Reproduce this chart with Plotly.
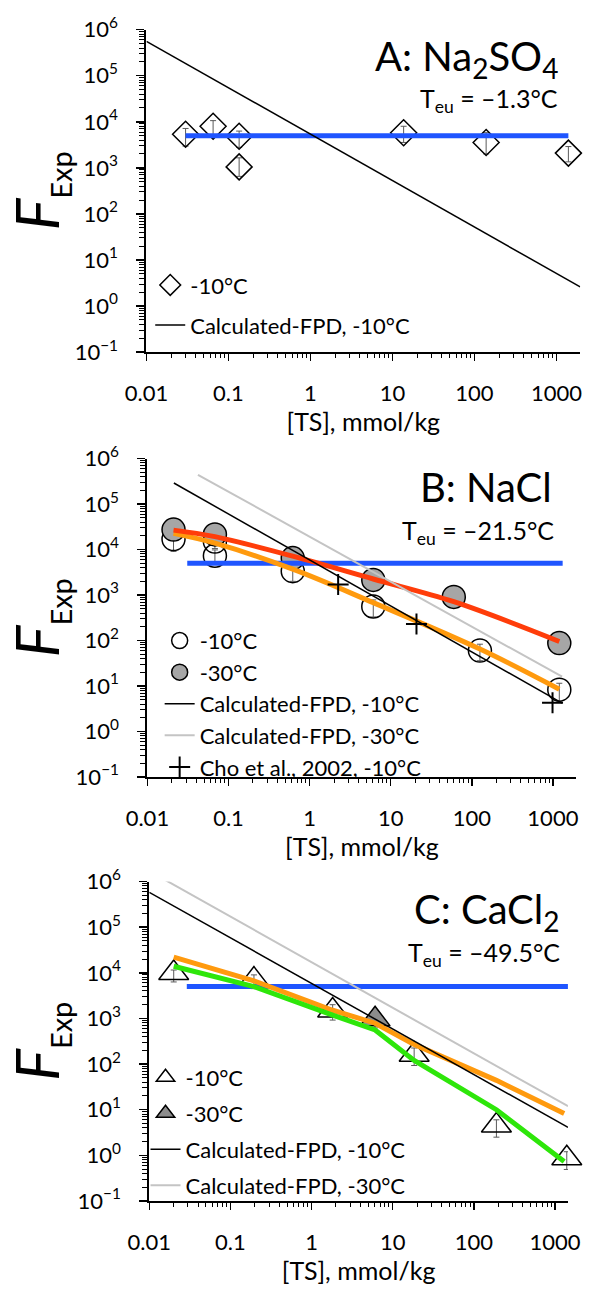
import plotly.graph_objects as go

W, H = 595, 1297
FONT = "Lato"

# ---------------- Panel A: Na2SO4 ----------------
a_x = [0.030, 0.065, 0.135, 0.135, 13.7, 139, 1400]
a_y = [5350, 8030, 4850, 1050, 5800, 3560, 2090]
a_hi = [7170, 10600, 6290, 1650, 8000, 5800, 2900]
a_lo = [2970, 4620, 2790, 653, 3560, 2010, 1350]
a_calc_x = [0.01, 1950]
a_calc_y = [5.6e5, 2.6]
a_blue_x = [0.03, 1400]
a_blue_y = [5000, 5000]

# ---------------- Panel B: NaCl ----------------
b10_x = [0.021, 0.068, 0.068, 0.62, 6.1, 126, 1200]
b10_y = [17000, 15000, 7300, 3350, 560, 60, 8.3]
b10_hi = [22000, 20500, 9800, 4500, 780, 83, 11.5]
b10_lo = [9100, 10500, 5000, 2000, 330, 36, 4.6]
b30_x = [0.021, 0.068, 0.62, 6.1, 60, 1200]
b30_y = [27500, 21500, 6500, 2150, 910, 88]
b30_hi = [36000, 29000, 8800, 2970, 1300, 126]
b30_lo = [17000, 13000, 3900, 1270, 535, 51]
cho_x = [2.25, 20.8, 990]
cho_y = [1700, 232, 4.3]
b_calc10_x = [0.0212, 1300]
b_calc10_y = [2.9e5, 4.2]
b_calc30_x = [0.042, 1300]
b_calc30_y = [4.4e5, 16]
b_fit30_x = [0.021, 0.068, 0.62, 6.1, 60, 1200]
b_fit30_y = [26700, 19200, 7150, 2250, 713, 95]
b_fit10_x = [0.021, 0.068, 0.62, 6.1, 126, 1200]
b_fit10_y = [22600, 13800, 3700, 680, 65, 8.5]
b_blue_x = [0.031, 1320]
b_blue_y = [5000, 5000]

# ---------------- Panel C: CaCl2 ----------------
c10_x = [0.02, 0.195, 1.82, 18.4, 190, 1400]
c10_y = [9900, 7100, 1490, 160, 4.5, 0.86]
c10_hi = [11500, 9000, 2000, 225, 6.0, 1.2]
c10_lo = [6300, 4500, 920, 93, 2.5, 0.49]
c30_x = [6.07]
c30_y = [955]
c30_hi = [1250]
c30_lo = [620]
c_calc10_x = [0.01, 1450]
c_calc10_y = [5.8e5, 4.1]
c_calc30_x = [0.0156, 1450]
c_calc30_y = [1.09e6, 11.9]
c_fitA_x = [0.02, 0.195, 1.82, 6.07, 18.4, 190, 1300]
c_fitA_y = [22100, 6650, 1510, 785, 270, 44, 8.3]
c_fitB_x = [0.02, 0.195, 1.82, 6.07, 18.4, 190, 1300]
c_fitB_y = [13900, 4960, 1185, 560, 120, 10, 0.73]
c_blue_x = [0.029, 1450]
c_blue_y = [5000, 5000]

# tick labels
x_tickvals = [0.01, 0.1, 1, 10, 100, 1000]
x_ticktext = ["0.01", "0.1", "1", "10", "100", "1000"]
y_tickvals = [0.1, 1, 10, 100, 1000, 1e4, 1e5, 1e6]
y_ticktext = ["10<sup>\u22121</sup>", "10<sup>0</sup>", "10<sup>1</sup>", "10<sup>2</sup>",
              "10<sup>3</sup>", "10<sup>4</sup>", "10<sup>5</sup>", "10<sup>6</sup>"]

BLUE = "#1f55ff"
ORANGE = "#ff9a0e"
RED = "#ff3d0a"
GREEN = "#2ee60a"
LGRAY = "#c4c4c4"
MGRAY = "#a6a6a6"
ERRC = "#5a5a5a"


def err(y, hi, lo):
    return dict(type="data", symmetric=False,
                array=[h - v for v, h in zip(y, hi)],
                arrayminus=[v - l for v, l in zip(y, lo)],
                color=ERRC, thickness=1, width=3)


def fx(px):
    return px / W


def fy(py):
    return 1 - py / H


fig = go.Figure()

# ---- Panel A traces
fig.add_trace(go.Scatter(x=a_x, y=a_y, mode="markers", name="-10°C",
                         marker=dict(symbol="diamond", size=20, color="rgba(255,255,255,0)",
                                     line=dict(color="black", width=1.5)),
                         error_y=err(a_y, a_hi, a_lo), xaxis="x", yaxis="y",
                         legend="legend", legendgroup="a1", cliponaxis=False))
fig.add_trace(go.Scatter(x=a_blue_x, y=a_blue_y, mode="lines", line=dict(color=BLUE, width=5),
                         showlegend=False, xaxis="x", yaxis="y"))
fig.add_trace(go.Scatter(x=a_calc_x, y=a_calc_y, mode="lines", name="Calculated-FPD, -10°C",
                         line=dict(color="black", width=1.5), xaxis="x", yaxis="y",
                         legend="legend", legendgroup="a2"))

# ---- Panel B traces
fig.add_trace(go.Scatter(x=b10_x, y=b10_y, mode="markers", name="-10°C",
                         marker=dict(symbol="circle", size=23, color="rgba(255,255,255,0)",
                                     line=dict(color="black", width=1.5)),
                         error_y=err(b10_y, b10_hi, b10_lo), xaxis="x2", yaxis="y2",
                         legend="legend2", legendgroup="b1", cliponaxis=False))
fig.add_trace(go.Scatter(x=b30_x, y=b30_y, mode="markers", name="-30°C",
                         marker=dict(symbol="circle", size=23, color=MGRAY,
                                     line=dict(color="black", width=1.5)),
                         error_y=err(b30_y, b30_hi, b30_lo), xaxis="x2", yaxis="y2",
                         legend="legend2", legendgroup="b2", cliponaxis=False))
fig.add_trace(go.Scatter(x=b_blue_x, y=b_blue_y, mode="lines", line=dict(color=BLUE, width=5),
                         showlegend=False, xaxis="x2", yaxis="y2"))
fig.add_trace(go.Scatter(x=b_fit10_x, y=b_fit10_y, mode="lines",
                         line=dict(color=ORANGE, width=5, shape="spline", smoothing=1),
                         showlegend=False, xaxis="x2", yaxis="y2"))
fig.add_trace(go.Scatter(x=b_fit30_x, y=b_fit30_y, mode="lines",
                         line=dict(color=RED, width=5, shape="spline", smoothing=1),
                         showlegend=False, xaxis="x2", yaxis="y2"))
fig.add_trace(go.Scatter(x=b_calc10_x, y=b_calc10_y, mode="lines", name="Calculated-FPD, -10°C",
                         line=dict(color="black", width=1.5), xaxis="x2", yaxis="y2",
                         legend="legend2", legendgroup="b3"))
fig.add_trace(go.Scatter(x=b_calc30_x, y=b_calc30_y, mode="lines", name="Calculated-FPD, -30°C",
                         line=dict(color=LGRAY, width=2), xaxis="x2", yaxis="y2",
                         legend="legend2", legendgroup="b4"))
fig.add_trace(go.Scatter(x=cho_x, y=cho_y, mode="markers", name="Cho et al., 2002, -10°C",
                         marker=dict(symbol="cross-thin", size=15, color="black",
                                     line=dict(color="black", width=2)),
                         xaxis="x2", yaxis="y2", legend="legend2", legendgroup="b5",
                         cliponaxis=False))

# ---- Panel C traces
fig.add_trace(go.Scatter(x=c10_x, y=c10_y, mode="markers", name="-10°C",
                         marker=dict(symbol="triangle-up", size=26, color="rgba(255,255,255,0)",
                                     line=dict(color="black", width=1.5)),
                         error_y=err(c10_y, c10_hi, c10_lo), xaxis="x3", yaxis="y3",
                         legend="legend3", legendgroup="c1", cliponaxis=False))
fig.add_trace(go.Scatter(x=c30_x, y=c30_y, mode="markers", name="-30°C",
                         marker=dict(symbol="triangle-up", size=26, color="#8c8c8c",
                                     line=dict(color="black", width=1.5)),
                         error_y=err(c30_y, c30_hi, c30_lo), xaxis="x3", yaxis="y3",
                         legend="legend3", legendgroup="c2", cliponaxis=False))
fig.add_trace(go.Scatter(x=c_blue_x, y=c_blue_y, mode="lines", line=dict(color=BLUE, width=5),
                         showlegend=False, xaxis="x3", yaxis="y3"))
fig.add_trace(go.Scatter(x=c_fitA_x, y=c_fitA_y, mode="lines",
                         line=dict(color=ORANGE, width=5),
                         showlegend=False, xaxis="x3", yaxis="y3"))
fig.add_trace(go.Scatter(x=c_fitB_x, y=c_fitB_y, mode="lines",
                         line=dict(color=GREEN, width=5),
                         showlegend=False, xaxis="x3", yaxis="y3"))
fig.add_trace(go.Scatter(x=c_calc10_x, y=c_calc10_y, mode="lines", name="Calculated-FPD, -10°C",
                         line=dict(color="black", width=1.5), xaxis="x3", yaxis="y3",
                         legend="legend3", legendgroup="c3"))
fig.add_trace(go.Scatter(x=c_calc30_x, y=c_calc30_y, mode="lines", name="Calculated-FPD, -30°C",
                         line=dict(color=LGRAY, width=2), xaxis="x3", yaxis="y3",
                         legend="legend3", legendgroup="c4"))

minor_vals = [m * 10 ** e for e in range(-3, 7) for m in range(2, 10)]


def xaxis(dom, rng, anchor):
    return dict(type="log", range=rng, domain=dom, anchor=anchor,
                tickmode="array", tickvals=x_tickvals, ticktext=x_ticktext,
                ticks="outside", ticklen=7, tickwidth=1.5, tickcolor="black",
                ticklabelstandoff=14,
                minor=dict(tickmode="array", tickvals=minor_vals, ticks="outside",
                           ticklen=4, tickwidth=1, tickcolor="black", showgrid=False),
                showline=True, linewidth=2, linecolor="black", showgrid=False, zeroline=False,
                tickfont=dict(family=FONT, size=22, color="black"),
                title=dict(text="[TS], mmol/kg", font=dict(family=FONT, size=25, color="black"),
                           standoff=2))


def yaxis(dom, anchor):
    return dict(type="log", range=[-1, 6], domain=dom, anchor=anchor,
                tickmode="array", tickvals=y_tickvals, ticktext=y_ticktext,
                ticks="outside", ticklen=8, tickwidth=1.5, tickcolor="black",
                ticklabelstandoff=14,
                minor=dict(tickmode="array", tickvals=minor_vals, ticks="outside",
                           ticklen=5, tickwidth=1, tickcolor="black", showgrid=False),
                showline=True, linewidth=2, linecolor="black", showgrid=False, zeroline=False,
                tickfont=dict(family=FONT, size=22, color="black"),
                title=dict(text="<i>F</i><sub><span style='font-size:29px'>Exp</span></sub>",
                           font=dict(family=FONT, size=60, color="black"), standoff=6))


def legend(x, y, gap):
    return dict(x=x, y=y, xanchor="left", yanchor="top", bgcolor="rgba(0,0,0,0)",
                font=dict(family=FONT, size=22, color="black"), itemsizing="trace",
                tracegroupgap=gap, traceorder="grouped")


annos = []


def title(text, xr, ymid, size):
    annos.append(dict(text=text, x=fx(xr), y=fy(ymid), xref="paper", yref="paper",
                      xanchor="right", yanchor="middle", showarrow=False,
                      font=dict(family=FONT, size=size, color="black")))


title("A: Na<sub>2</sub>SO<sub>4</sub>", 571, 42, 40)
title("T<sub>eu</sub> = \u20131.3°C", 571, 85, 25)
title("B: NaCl", 564, 481, 40)
title("T<sub>eu</sub> = \u201321.5°C", 566, 527, 25)
title("C: CaCl<sub>2</sub>", 573, 916, 40)
title("T<sub>eu</sub> = \u201349.5°C", 573, 959, 25)

fig.update_layout(
    width=W, height=H, margin=dict(l=0, r=0, t=0, b=0),
    paper_bgcolor="white", plot_bgcolor="white",
    font=dict(family=FONT, color="black"),
    hovermode=False,
    xaxis=xaxis([fx(132), fx(592)], [-2, 3.29], "y"),
    yaxis=yaxis([fy(343), fy(13)], "x"),
    xaxis2=xaxis([fx(133), fx(588)], [-2, 3.29], "y2"),
    yaxis2=yaxis([fy(778), fy(452)], "x2"),
    xaxis3=xaxis([fx(135), fx(579)], [-2, 3.16], "y3"),
    yaxis3=yaxis([fy(1212), fy(885)], "x3"),
    legend=legend(fx(136), fy(253), 8.4),
    legend2=legend(fx(146), fy(617), 0),
    legend3=legend(fx(131), fy(1064), 4.4),
    annotations=annos,
    showlegend=True,
)

# remove the browser's default 8px body margin so the figure sits at the page origin
fig.write_html("out.html", config={"displayModeBar": False, "staticPlot": True},
               post_script="document.body.style.margin='0px';")
